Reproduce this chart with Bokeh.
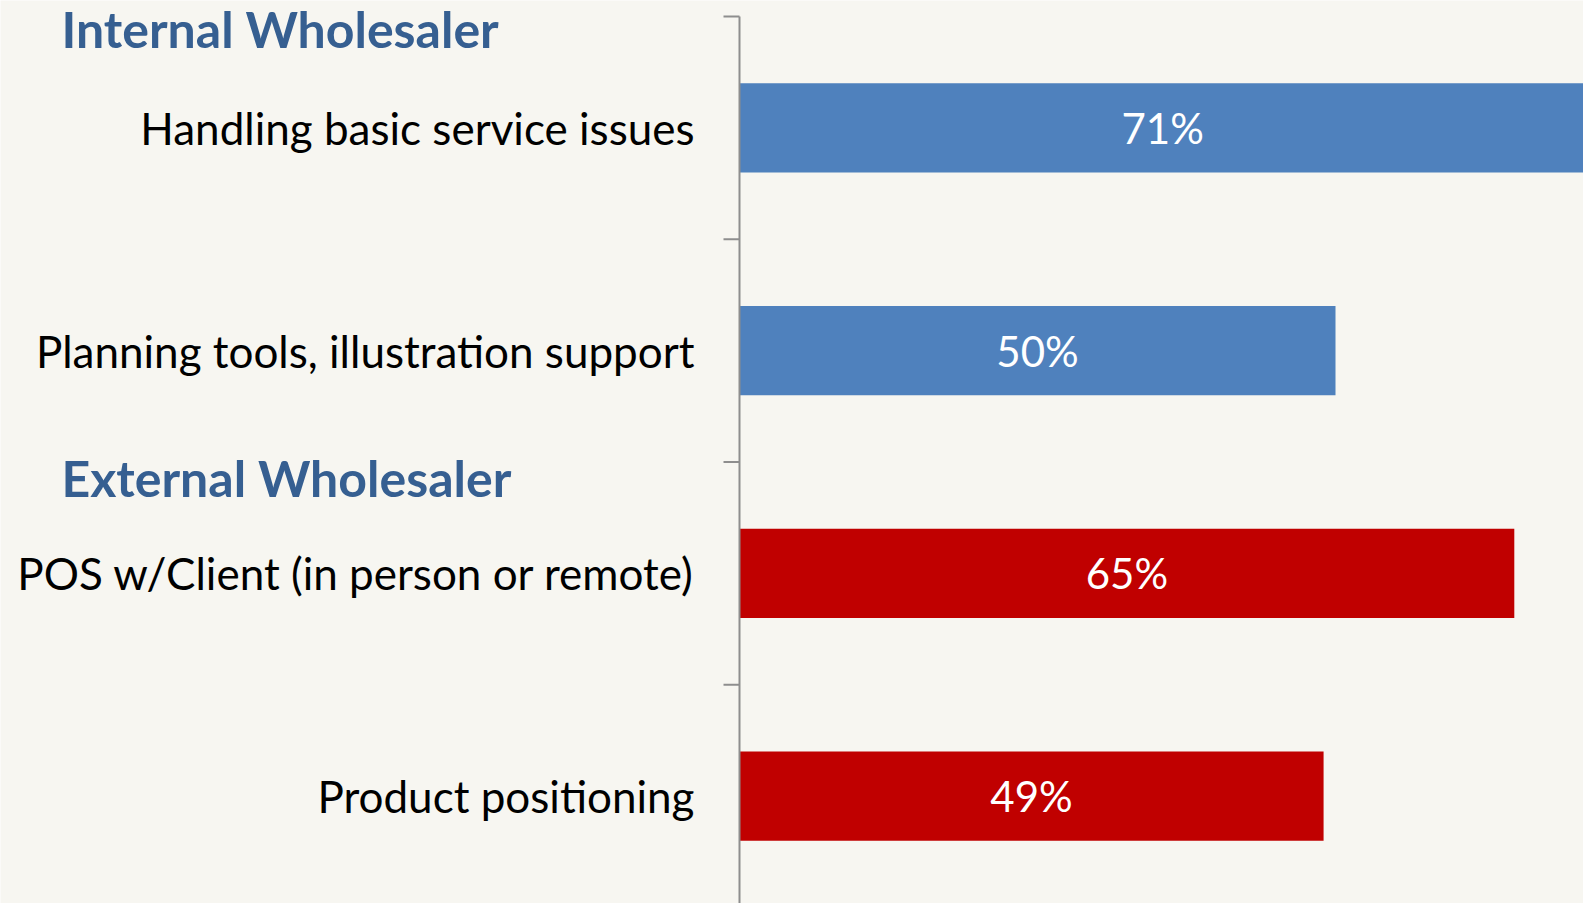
from bokeh.plotting import figure
from bokeh.models import Range1d, ColumnDataSource
from bokeh.core.properties import value
from bokeh.embed import file_html
from bokeh.resources import INLINE

categories = ["Handling basic service issues", "Planning tools, illustration support",
              "POS w/Client (in person or remote)", "Product positioning"]
values = [71, 50, 65, 49]
colors = ["#4F81BD", "#4F81BD", "#C00000", "#C00000"]
labels = ["71%", "50%", "65%", "49%"]
groups = ["Internal Wholesaler", "External Wholesaler"]
group_pos = [0.058, 2.07]
boundaries = [0, 1, 2, 3, 4]

BG = "#F7F6F1"
FONT = "Lato"
AXC = "#8E8E8E"

# pixel geometry -> data ranges (0% at x=739 px, 11.92 px per %)
PX = 11.92
PY = 222.75
x_start, x_end = -739 / PX, (1583 - 739) / PX
y_top, y_bottom = -16 / PY, (903 - 16) / PY
tick_len = 16 / PX
label_gap = 45 / PX
head_x = (61 - 739) / PX

pos = [i + 0.5 for i in range(len(categories))]
src = ColumnDataSource(dict(y=pos, v=values, c=colors, t=labels, cat=categories,
                            mid=[v / 2 for v in values],
                            lx=[-label_gap] * len(categories)))

p = figure(width=1583, height=903, output_backend="svg", toolbar_location=None,
           x_range=Range1d(x_start, x_end), y_range=Range1d(y_bottom, y_top),
           x_axis_location=None, y_axis_location=None,
           min_border=0, background_fill_color=BG, border_fill_color=BG,
           outline_line_color=None)
p.grid.visible = False

p.hbar(y="y", right="v", left=0, height=0.4, fill_color="c", line_color=None, source=src)
p.text(x="mid", y="y", text="t", text_color="white", text_align="center",
       text_baseline="middle", text_font=value(FONT), text_font_size="42px", source=src)

# axis line and boundary ticks
p.segment(x0=[0], x1=[0], y0=[boundaries[0]], y1=[boundaries[-1]],
          line_color=AXC, line_width=2)
p.segment(x0=[-tick_len] * len(boundaries), x1=[0] * len(boundaries),
          y0=boundaries, y1=boundaries, line_color=AXC, line_width=2)

# category labels
p.text(x="lx", y="y", text="cat", text_color="black", text_align="right",
       text_baseline="middle", text_font=value(FONT), text_font_size="44px", source=src)

# group headings
p.text(x=[head_x] * len(groups), y=group_pos, text=groups, text_color="#365F91",
       text_align="left", text_baseline="middle", text_font=value(FONT),
       text_font_style="bold", text_font_size="50px")

open("out.html", "w").write(file_html(p, INLINE))
